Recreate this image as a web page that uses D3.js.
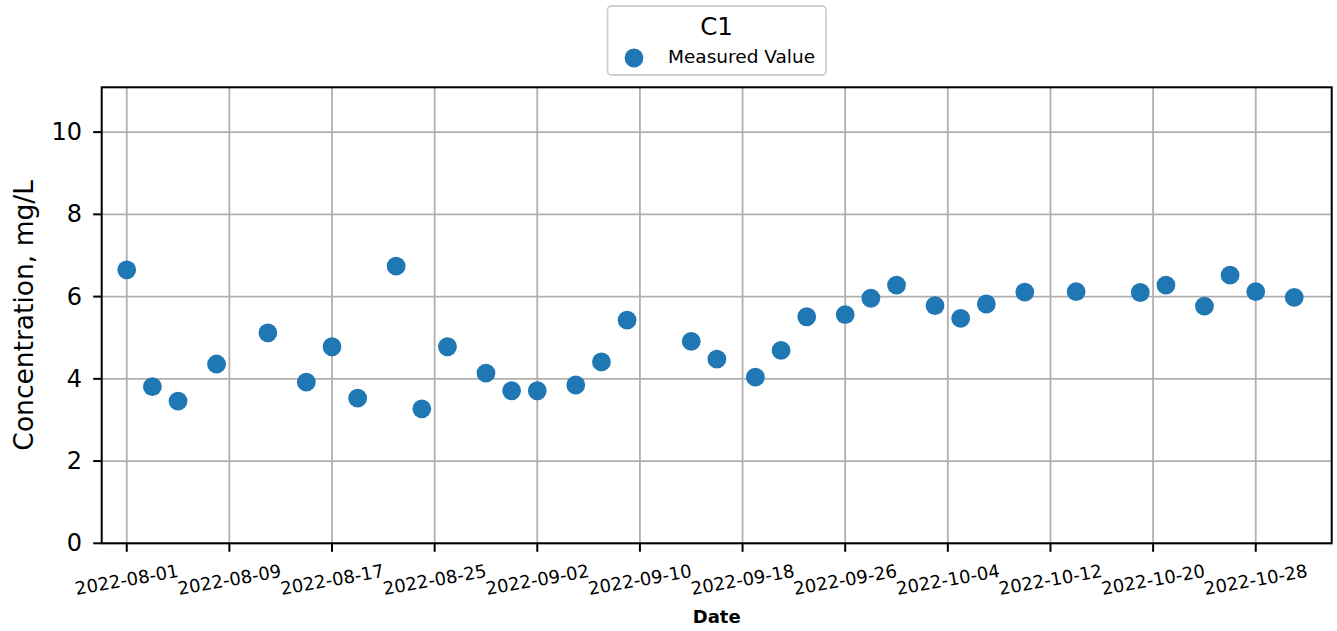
<!DOCTYPE html>
<html>
<head>
<meta charset="utf-8">
<script src="https://cdn.jsdelivr.net/npm/d3@7"></script>
<style>
  html, body { margin: 0; padding: 0; background: #ffffff; }
  svg { display: block; font-family: "DejaVu Sans", sans-serif; }
</style>
</head>
<body>
<svg id="chart" width="1337" height="631"></svg>
<script>
// ---- data ----
const dates = [
  "2022-08-01","2022-08-03","2022-08-05","2022-08-08","2022-08-12","2022-08-15",
  "2022-08-17","2022-08-19","2022-08-22","2022-08-24","2022-08-26","2022-08-29",
  "2022-08-31","2022-09-02","2022-09-05","2022-09-07","2022-09-09","2022-09-14",
  "2022-09-16","2022-09-19","2022-09-21","2022-09-23","2022-09-26","2022-09-28",
  "2022-09-30","2022-10-03","2022-10-05","2022-10-07","2022-10-10","2022-10-14",
  "2022-10-19","2022-10-21","2022-10-24","2022-10-26","2022-10-28","2022-10-31"
];
const values = [
  6.65, 3.81, 3.46, 4.36, 5.12, 3.92,
  4.78, 3.53, 6.74, 3.27, 4.78, 4.14,
  3.71, 3.71, 3.85, 4.41, 5.43, 4.91,
  4.48, 4.04, 4.69, 5.51, 5.56, 5.96,
  6.28, 5.78, 5.47, 5.82, 6.11, 6.12,
  6.10, 6.28, 5.77, 6.52, 6.12, 5.98
];
const xTickLabels = [
  "2022-08-01","2022-08-09","2022-08-17","2022-08-25","2022-09-02","2022-09-10",
  "2022-09-18","2022-09-26","2022-10-04","2022-10-12","2022-10-20","2022-10-28"
];
const yTicks = [0, 2, 4, 6, 8, 10];
const seriesName = "Measured Value";
const legendTitle = "C1";
const xLabel = "Date";
const yLabel = "Concentration, mg/L";
const xDomain = ["2022-07-30T01:10:00", "2022-11-02T22:05:00"];
const yDomain = [0, 11.09];

// ---- layout ----
const svg = d3.select("#chart");
const L = 101.7, R = 1331.7, T = 87.3, B = 543.3;
const blue = "#1f77b4";
const parse = d3.isoParse;
const parseDay = d3.timeParse("%Y-%m-%d");

const x = d3.scaleTime().domain(xDomain.map(parse)).range([L, R]);
const y = d3.scaleLinear().domain(yDomain).range([B, T]);

const xTickDates = xTickLabels.map(parseDay);

// grid
const grid = svg.append("g");
grid.selectAll("line.gx").data(xTickDates).enter().append("line")
  .attr("x1", d => x(d)).attr("x2", d => x(d))
  .attr("y1", T).attr("y2", B)
  .attr("stroke", "#b0b0b0").attr("stroke-width", 1.8);
grid.selectAll("line.gy").data(yTicks).enter().append("line")
  .attr("x1", L).attr("x2", R)
  .attr("y1", d => y(d)).attr("y2", d => y(d))
  .attr("stroke", "#b0b0b0").attr("stroke-width", 1.8);

// points
svg.append("g").selectAll("circle").data(dates.map((d, i) => ({d: parseDay(d), v: values[i]})))
  .enter().append("circle")
  .attr("cx", p => x(p.d)).attr("cy", p => y(p.v))
  .attr("r", 9.4).attr("fill", blue);

// spines
svg.append("rect").attr("x", L).attr("y", T).attr("width", R - L).attr("height", B - T)
  .attr("fill", "none").attr("stroke", "#000").attr("stroke-width", 2);

// x axis ticks
const xAxis = svg.append("g");
xAxis.selectAll("line").data(xTickDates).enter().append("line")
  .attr("x1", d => x(d)).attr("x2", d => x(d))
  .attr("y1", B).attr("y2", B + 8.5)
  .attr("stroke", "#000").attr("stroke-width", 2);
xAxis.selectAll("text").data(xTickDates).enter().append("text")
  .attr("transform", d => `translate(${x(d)},579.5) rotate(-10)`)
  .attr("text-anchor", "middle").attr("dominant-baseline", "central")
  .attr("font-size", 18).attr("fill", "#000")
  .text((d, i) => xTickLabels[i]);

// y axis ticks
const yAxis = svg.append("g");
yAxis.selectAll("line").data(yTicks).enter().append("line")
  .attr("x1", L - 8.5).attr("x2", L)
  .attr("y1", d => y(d)).attr("y2", d => y(d))
  .attr("stroke", "#000").attr("stroke-width", 2);
yAxis.selectAll("text").data(yTicks).enter().append("text")
  .attr("x", 82).attr("y", d => y(d))
  .attr("text-anchor", "end").attr("dominant-baseline", "central")
  .attr("font-size", 24).attr("fill", "#000")
  .text(d => d);

// axis labels
svg.append("text").attr("x", (L + R) / 2).attr("y", 622.7)
  .attr("text-anchor", "middle").attr("font-size", 18).attr("font-weight", "bold")
  .text(xLabel);
svg.append("text").attr("transform", `translate(33,${(T + B) / 2}) rotate(-90)`)
  .attr("text-anchor", "middle").attr("font-size", 26.5)
  .text(yLabel);

// legend
const lg = svg.append("g");
lg.append("rect").attr("x", 607.5).attr("y", 6).attr("width", 218.5).attr("height", 69)
  .attr("rx", 4).attr("fill", "#fff").attr("stroke", "#d0d0d0").attr("stroke-width", 1.8);
lg.append("text").attr("x", 716.5).attr("y", 35).attr("text-anchor", "middle")
  .attr("font-size", 24.5).text(legendTitle);
lg.append("circle").attr("cx", 634).attr("cy", 58).attr("r", 9.4).attr("fill", blue);
lg.append("text").attr("x", 668).attr("y", 63.3).attr("font-size", 18.5).text(seriesName);
</script>
</body>
</html>
